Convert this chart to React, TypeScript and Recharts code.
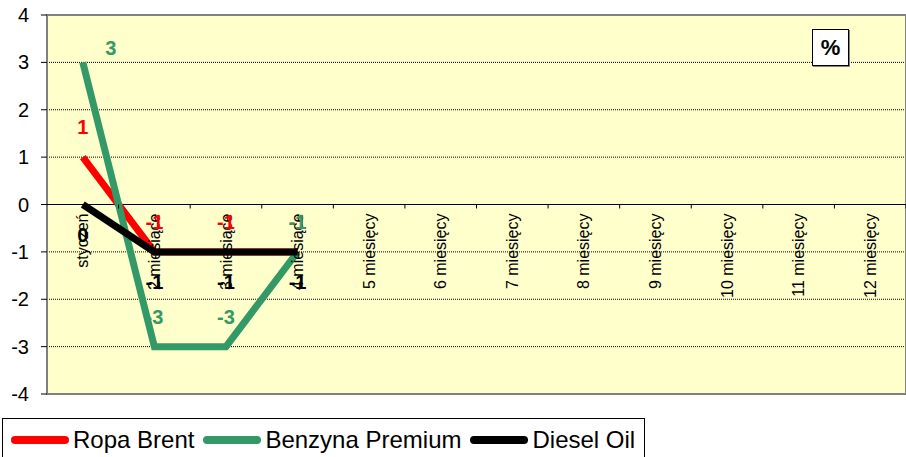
import { CartesianGrid, LabelList, Line, LineChart, ReferenceArea, ReferenceLine, XAxis, YAxis } from "recharts";

// categories and series values
const categories = [
  "styczeń",
  "2 miesiące",
  "3 miesiące",
  "4 miesiące",
  "5 miesięcy",
  "6 miesięcy",
  "7 miesięcy",
  "8 miesięcy",
  "9 miesięcy",
  "10 miesięcy",
  "11 miesięcy",
  "12 miesięcy",
];
const ropaBrent = [1, -1, -1, -1, null, null, null, null, null, null, null, null];
const benzynaPremium = [3, -3, -3, -1, null, null, null, null, null, null, null, null];
const dieselOil = [0, -1, -1, -1, null, null, null, null, null, null, null, null];
const yTicks = [-4, -3, -2, -1, 0, 1, 2, 3, 4];

const data = categories.map((cat, i) => ({
  cat,
  brent: ropaBrent[i],
  benzyna: benzynaPremium[i],
  diesel: dieselOil[i],
}));

const series = [
  { key: "brent", name: "Ropa Brent", color: "#FF0000", above: true },
  { key: "benzyna", name: "Benzyna Premium", color: "#339966", above: true },
  { key: "diesel", name: "Diesel Oil", color: "#000000", above: false },
];

const W = 906;
const H = 410;
const M = { top: 15, right: 0, bottom: 15, left: 0 };
const Y_W = 47;
const X_H = 1;
const PLOT_H = H - M.top - M.bottom - X_H;
const ZERO_Y = M.top + PLOT_H / 2;
const BAND = (W - Y_W - M.left - M.right) / categories.length;
const FONT = "Arial, 'Liberation Sans', sans-serif";

const CatTick = ({ x, payload }: any) => {
  return (
    <g>
      <line x1={x + BAND / 2} x2={x + BAND / 2} y1={ZERO_Y} y2={ZERO_Y + 4} stroke="#000" />
      <text
        transform={`translate(${x},${ZERO_Y + 9}) rotate(-90)`}
        textAnchor="end"
        dy="0.35em"
        fontSize={16}
        fontFamily={FONT}
        fill="#000"
      >
        {payload.value}
      </text>
    </g>
  );
};

const makeLabel = (color: string, above: boolean) => (props: any) => {
  const { x, y, value, index } = props;
  if (value === null || value === undefined) return null;
  let lx = x;
  let ly = above ? y - 30 : y + 30;
  // first green label sits to the right of the point
  if (color === "#339966" && index === 0) {
    lx = x + 28;
    ly = y - 14;
  }
  return (
    <text
      x={lx}
      y={ly}
      textAnchor="middle"
      dominantBaseline="central"
      fontSize={20}
      fontWeight="bold"
      fontFamily={FONT}
      fill={color}
    >
      {value}
    </text>
  );
};

export default function App() {
  return (
    <div
      style={{
        position: "absolute",
        left: 0,
        top: 0,
        width: W,
        height: 457,
        background: "#fff",
        fontFamily: FONT,
        overflow: "hidden",
      }}
    >
      <LineChart width={W} height={H} data={data} margin={M}>
        <CartesianGrid
          vertical={false}
          fill="#FFFFCC"
          stroke="#000"
          strokeDasharray="1 1"
          horizontalValues={yTicks}
        />
        <ReferenceArea y1={-4} y2={4} fill="none" stroke="#808080" strokeWidth={2} ifOverflow="visible" />
        <ReferenceLine y={0} stroke="#000" strokeWidth={1} />
        <XAxis
          dataKey="cat"
          scale="band"
          height={X_H}
          axisLine={false}
          tickLine={false}
          interval={0}
          tick={<CatTick />}
        />
        <YAxis
          type="number"
          domain={[-4, 4]}
          ticks={yTicks}
          interval={0}
          width={Y_W}
          axisLine={false}
          tickLine={{ stroke: "#000" }}
          tickSize={6}
          tickMargin={12}
          tick={{ fontSize: 20, fill: "#000", fontFamily: FONT }}
        />
        {series.map((s) => (
          <Line
            key={s.key}
            dataKey={s.key}
            name={s.name}
            stroke={s.color}
            strokeWidth={7}
            dot={false}
            activeDot={false}
            isAnimationActive={false}
          >
            <LabelList dataKey={s.key} content={makeLabel(s.color, s.above)} />
          </Line>
        ))}
      </LineChart>

      {/* unit box */}
      <div
        style={{
          position: "absolute",
          left: 812,
          top: 29,
          width: 35,
          height: 35,
          background: "#fff",
          border: "1px solid #000",
          boxShadow: "1px 1px 0 #808080",
          fontWeight: "bold",
          fontSize: 22,
          display: "flex",
          alignItems: "center",
          justifyContent: "center",
        }}
      >
        %
      </div>

      {/* legend */}
      <div
        style={{
          position: "absolute",
          left: 2,
          top: 418,
          width: 643,
          height: 45,
          border: "1px solid #000",
          boxSizing: "border-box",
          display: "flex",
          alignItems: "flex-start",
          paddingLeft: 8,
          paddingTop: 9,
          whiteSpace: "nowrap",
          background: "#fff",
        }}
      >
        {series.map((s) => (
          <div key={s.key} style={{ display: "flex", alignItems: "center", marginRight: 9, flexShrink: 0 }}>
            <div
              style={{
                width: 58,
                height: 8,
                borderRadius: 4,
                background: s.color,
                marginRight: 4,
                flexShrink: 0,
              }}
            />
            <span style={{ fontSize: 24, lineHeight: "24px", color: "#000" }}>{s.name}</span>
          </div>
        ))}
      </div>
    </div>
  );
}
